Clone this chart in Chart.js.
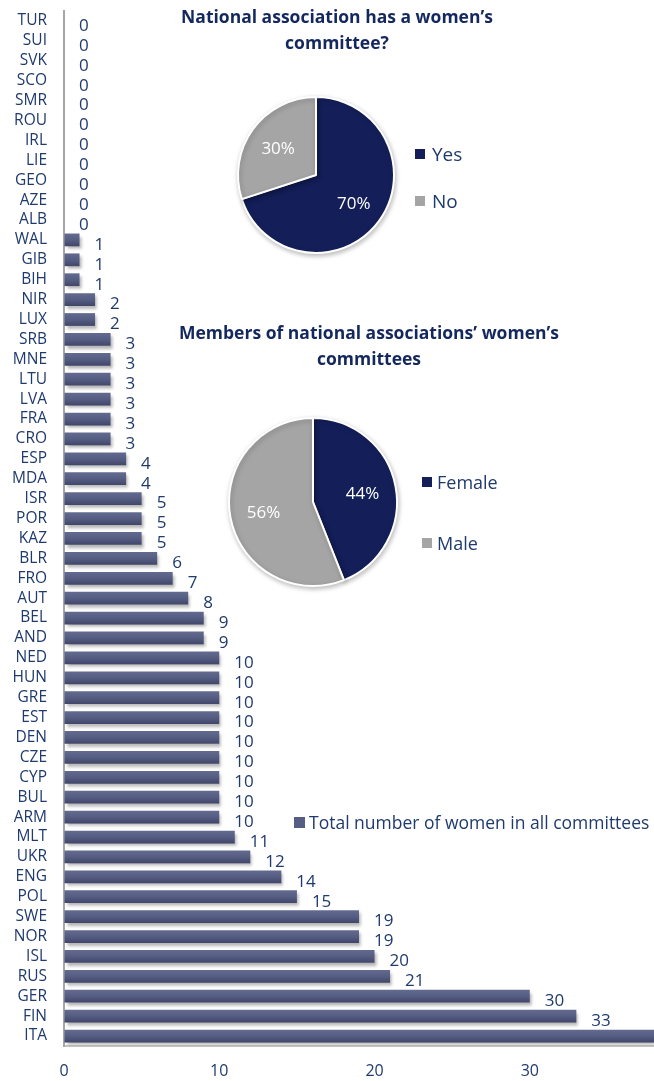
<!DOCTYPE html>
<html>
<head>
<meta charset="utf-8">
<script src="https://cdn.jsdelivr.net/npm/chart.js@4.4.1/dist/chart.umd.min.js"></script>
<style>
  body { margin: 0; background: #fff; }
  #wrap { position: relative; width: 654px; height: 1081px; overflow: hidden; font-family: "Open Sans", "Noto Sans", sans-serif; }
  #wrap canvas { position: absolute; }
  .title { position: absolute; color: #14285e; font-weight: 700; font-size: 17.5px; line-height: 26px; text-align: center; white-space: nowrap; }
  .legend { position: absolute; color: #1f3a6d; white-space: nowrap; }
  .legend div { position: relative; height: 0; }
  .legend span.box { position: absolute; width: 10px; height: 10px; }
  .legend span.txt { position: absolute; transform: translateY(-50%); }
</style>
</head>
<body>
<div id="wrap">
  <canvas id="bars" width="654" height="1081" style="left:0;top:0"></canvas>
  <canvas id="pieCommittee" width="180" height="180" style="left:226px;top:85px"></canvas>
  <canvas id="pieMembers" width="190" height="190" style="left:218px;top:407px"></canvas>

  <div class="title" style="left:337px;top:3px;transform:translateX(-50%)">National association has a women’s<br>committee?</div>
  <div class="title" style="left:369px;top:319px;transform:translateX(-50%)">Members of national associations’ women’s<br>committees</div>

  <div class="legend" style="left:415px;top:0;font-size:19px">
    <div style="top:154px"><span class="box" style="background:#141f5a;top:-5px"></span><span class="txt" style="left:17px">Yes</span></div>
    <div style="top:201px"><span class="box" style="background:#a5a5a5;top:-5px"></span><span class="txt" style="left:17px">No</span></div>
  </div>
  <div class="legend" style="left:422px;top:0;font-size:18px">
    <div style="top:482px"><span class="box" style="background:#141f5a;top:-5px"></span><span class="txt" style="left:15px">Female</span></div>
    <div style="top:543px"><span class="box" style="background:#a5a5a5;top:-5px"></span><span class="txt" style="left:15px">Male</span></div>
  </div>
  <div class="legend" style="left:294px;top:0;font-size:17.5px">
    <div style="top:822px"><span class="box" style="background:#565d82;top:-5px;width:11px;height:11px"></span><span class="txt" style="left:15px">Total number of women in all committees</span></div>
  </div>
</div>

<script>
// women in national association committees, per association
const countries = ['TUR', 'SUI', 'SVK', 'SCO', 'SMR', 'ROU', 'IRL', 'LIE', 'GEO', 'AZE', 'ALB',
  'WAL', 'GIB', 'BIH', 'NIR', 'LUX', 'SRB', 'MNE', 'LTU', 'LVA', 'FRA', 'CRO', 'ESP', 'MDA',
  'ISR', 'POR', 'KAZ', 'BLR', 'FRO', 'AUT', 'BEL', 'AND', 'NED', 'HUN', 'GRE', 'EST', 'DEN',
  'CZE', 'CYP', 'BUL', 'ARM', 'MLT', 'UKR', 'ENG', 'POL', 'SWE', 'NOR', 'ISL', 'RUS', 'GER',
  'FIN', 'ITA'];
const womenTotals = [0, 0, 0, 0, 0, 0, 0, 0, 0, 0, 0,
  1, 1, 1, 2, 2, 3, 3, 3, 3, 3, 3, 4, 4,
  5, 5, 5, 6, 7, 8, 9, 9, 10, 10, 10, 10, 10,
  10, 10, 10, 10, 11, 12, 14, 15, 19, 19, 20, 21, 30,
  33, 38];
const xTicks = [0, 10, 20, 30];

const committeeLabels = ['Yes', 'No'];
const committeeShares = [70, 30];
const memberLabels = ['Female', 'Male'];
const memberShares = [44, 56];

const NAVY = '#141f5a';
const GREY = '#a5a5a5';
const TEXT = '#1f3a6d';
const FONT = '"Open Sans", "Noto Sans", sans-serif';

// numbers next to each bar
const barValues = {
    id: 'barValues',
    afterDatasetsDraw(chart) {
        const ctx = chart.ctx;
        ctx.save();
        ctx.fillStyle = TEXT;
        ctx.font = '17px ' + FONT;
        ctx.textAlign = 'left';
        ctx.textBaseline = 'middle';
        chart.getDatasetMeta(0).data.forEach((bar, i) => {
            ctx.fillText(womenTotals[i], bar.x + 15, bar.y + 5);
        });
        ctx.restore();
    }
};

// soft drop shadow under the bars
const barShadow = {
    id: 'barShadow',
    beforeDatasetDraw(chart) {
        const ctx = chart.ctx;
        ctx.save();
        ctx.shadowColor = 'rgba(0,0,0,0.3)';
        ctx.shadowBlur = 3;
        ctx.shadowOffsetX = 2;
        ctx.shadowOffsetY = 3;
    },
    afterDatasetDraw(chart) {
        chart.ctx.restore();
    }
};

function barFill(c) {
    const chart = c.chart;
    if (!chart.chartArea || !chart.scales.y) return '#565d82';
    const y = chart.scales.y.getPixelForValue(c.dataIndex);
    const g = chart.ctx.createLinearGradient(0, y - 6.5, 0, y + 6.5);
    g.addColorStop(0, '#646b91');
    g.addColorStop(0.5, '#565d82');
    g.addColorStop(1, '#40466a');
    return g;
}

new Chart(document.getElementById('bars'), {
    type: 'bar',
    data: {
        labels: countries,
        datasets: [{
            label: 'Total number of women in all committees',
            data: womenTotals,
            backgroundColor: barFill,
            categoryPercentage: 1,
            barPercentage: 0.64
        }]
    },
    options: {
        indexAxis: 'y',
        responsive: false,
        animation: false,
        devicePixelRatio: 1,
        layout: { padding: { top: 11, right: 0, bottom: 0, left: 0 } },
        plugins: { legend: { display: false }, tooltip: { enabled: false } },
        scales: {
            x: {
                min: 0,
                max: 38,
                afterBuildTicks: (scale) => { scale.ticks = xTicks.map(v => ({ value: v })); },
                afterFit: (scale) => { scale.height = 35; scale.paddingLeft = 0; scale.paddingRight = 0; },
                grid: { drawOnChartArea: false, drawTicks: false },
                border: { color: '#c4c4c4', width: 2 },
                ticks: { color: TEXT, font: { family: FONT, size: 16 }, padding: 16, maxRotation: 0 }
            },
            y: {
                afterFit: (scale) => { scale.width = 64; scale.paddingTop = 0; scale.paddingBottom = 0; },
                grid: { drawOnChartArea: false, drawTicks: false },
                border: { color: '#a6a6a6', width: 2 },
                ticks: { color: TEXT, font: { family: FONT, size: 15.5 }, padding: 17, autoSkip: false }
            }
        }
    },
    plugins: [barShadow, barValues]
});

// percentage written inside each slice
const sliceLabels = {
    id: 'sliceLabels',
    afterDatasetsDraw(chart) {
        const ctx = chart.ctx;
        const values = chart.data.datasets[0].data;
        ctx.save();
        ctx.fillStyle = '#fff';
        ctx.font = '17px ' + FONT;
        ctx.textAlign = 'center';
        ctx.textBaseline = 'middle';
        chart.getDatasetMeta(0).data.forEach((arc, i) => {
            const p = arc.getProps(['x', 'y', 'startAngle', 'endAngle', 'outerRadius']);
            const mid = (p.startAngle + p.endAngle) / 2;
            const r = p.outerRadius * 0.6;
            ctx.fillText(values[i] + '%', p.x + Math.cos(mid) * r, p.y + Math.sin(mid) * r + 2);
        });
        ctx.restore();
    }
};

const pieShadow = {
    id: 'pieShadow',
    beforeDatasetDraw(chart) {
        const ctx = chart.ctx;
        ctx.save();
        ctx.shadowColor = 'rgba(0,0,0,0.25)';
        ctx.shadowBlur = 5;
        ctx.shadowOffsetX = 1;
        ctx.shadowOffsetY = 2;
    },
    afterDatasetDraw(chart) {
        chart.ctx.restore();
    }
};

function makePie(id, labels, values, radius) {
    return new Chart(document.getElementById(id), {
        type: 'pie',
        data: {
            labels: labels,
            datasets: [{
                data: values,
                backgroundColor: [NAVY, GREY],
                borderColor: '#fff',
                borderWidth: 2,
                radius: radius
            }]
        },
        options: {
            responsive: false,
            animation: false,
            devicePixelRatio: 1,
            plugins: { legend: { display: false }, tooltip: { enabled: false } }
        },
        plugins: [pieShadow, sliceLabels]
    });
}

makePie('pieCommittee', committeeLabels, committeeShares, 78);
makePie('pieMembers', memberLabels, memberShares, 84);
</script>
</body>
</html>
